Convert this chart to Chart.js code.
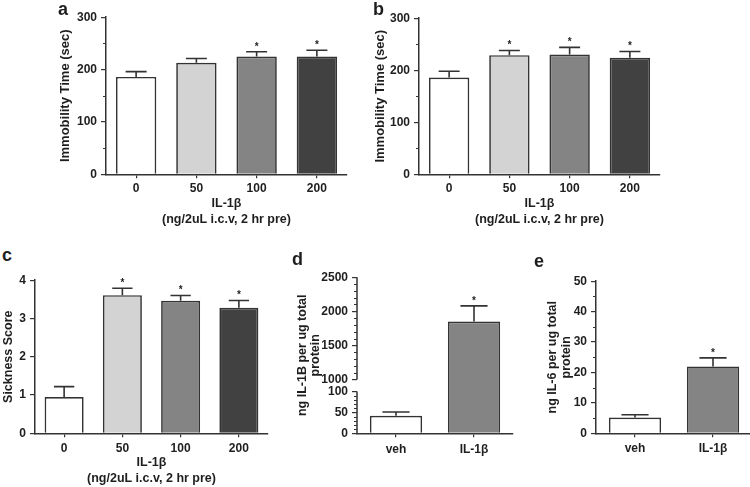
<!DOCTYPE html>
<html>
<head>
<meta charset="utf-8">
<script src="https://cdn.jsdelivr.net/npm/chart.js@4.4.1/dist/chart.umd.min.js"></script>
<style>
html, body { margin: 0; padding: 0; background: #fff; }
#fig { position: relative; width: 750px; height: 487px; overflow: hidden; background: #fff; }
#fig canvas { position: absolute; }
.tag { position: absolute; z-index: 2; font: bold 18px/18px "Liberation Sans", Arial, sans-serif; color: #1e1e1e; }
</style>
</head>
<body>
<div id="fig">
  <canvas id="chartA"></canvas>
  <canvas id="chartB"></canvas>
  <canvas id="chartC"></canvas>
  <canvas id="chartD"></canvas>
  <canvas id="chartE"></canvas>
  <div class="tag" style="left:58px;top:0px">a</div>
  <div class="tag" style="left:373px;top:0px">b</div>
  <div class="tag" style="left:2px;top:246px">c</div>
  <div class="tag" style="left:292px;top:250px">d</div>
  <div class="tag" style="left:534px;top:252px">e</div>
</div>
<script>
// ---- data ----
const doseLabels = ['0', '50', '100', '200'];
const groupLabels = ['veh', 'IL-1β'];

const immobilityA = [186, 213, 225, 225];
const immobilityAErr = [10, 8, 9, 12];
const signifA = [false, false, true, true];

const immobilityB = [186, 229, 230, 224];
const immobilityBErr = [12, 9, 14, 12];
const signifB = [false, true, true, true];

const sickness = [0.95, 3.61, 3.46, 3.28];
const sicknessErr = [0.27, 0.18, 0.14, 0.19];
const signifC = [false, true, true, true];

const il1bLevel = [42, 1850];
const il1bErr = [9, 230];
const signifD = [false, true];
const il1bTicks = [0, 50, 100, 1000, 1500, 2000, 2500];

const il6Level = [5.2, 22.0];
const il6Err = [0.9, 2.8];
const signifE = [false, true];

// ---- style ----
const INK = '#333333';
const TEXT = '#1e1e1e';
const DOSE_FILLS = ['#ffffff', '#d3d3d3', '#848484', '#414141'];
const GROUP_FILLS = ['#ffffff', '#848484'];
const PAD_TOP = 10, PAD_RIGHT = 4;
const TICK_SIZE = 12;

Chart.defaults.font.family = '"Liberation Sans", Arial, sans-serif';
Chart.defaults.font.weight = 'bold';
Chart.defaults.color = TEXT;

// broken y axis for panel d: 0-100 below, 1000-2500 above, short gap between
const IL1B_SEGMENTS = [
  { from: 0, to: 100, px: 42.3 },
  { from: 100, to: 1000, px: 12 },
  { from: 1000, to: 2500, px: 103.3 }
];
class BrokenLinearScale extends Chart.LinearScale {
  buildTicks() {
    this.start = this.min;
    this.end = this.max;
    return il1bTicks.map(v => ({ value: v }));
  }
  getPixelForValue(value) {
    const total = IL1B_SEGMENTS.reduce((s, g) => s + g.px, 0);
    const k = (this.bottom - this.top) / total;
    let y = this.bottom;
    for (const g of IL1B_SEGMENTS) {
      const len = g.px * k;
      if (value <= g.to) return y - len * (Math.max(value, g.from) - g.from) / (g.to - g.from);
      y -= len;
    }
    return y;
  }
  getValueForPixel(pixel) {
    const total = IL1B_SEGMENTS.reduce((s, g) => s + g.px, 0);
    const k = (this.bottom - this.top) / total;
    let y = this.bottom;
    for (const g of IL1B_SEGMENTS) {
      const len = g.px * k;
      if (pixel >= y - len) return g.from + (y - pixel) / len * (g.to - g.from);
      y -= len;
    }
    return this.max;
  }
}
BrokenLinearScale.id = 'brokenLinear';
BrokenLinearScale.defaults = {};
Chart.register(BrokenLinearScale);

// error bars (upper half only), asterisks, minor ticks, broken axis line
function decorations(p) {
  return {
    id: 'decor',
    afterDatasetsDraw(chart) {
      const ctx = chart.ctx;
      const ys = chart.scales.y;
      const meta = chart.getDatasetMeta(0);
      ctx.save();
      ctx.strokeStyle = INK;
      ctx.lineWidth = 1.6;
      ctx.fillStyle = TEXT;
      ctx.font = 'bold 10px "Liberation Sans", Arial, sans-serif';
      ctx.textAlign = 'center';
      ctx.textBaseline = 'middle';
      meta.data.forEach((bar, i) => {
        const capY = ys.getPixelForValue(p.values[i] + p.errors[i]);
        const half = bar.width * 0.26;
        ctx.beginPath();
        ctx.moveTo(bar.x, bar.y);
        ctx.lineTo(bar.x, capY);
        ctx.moveTo(bar.x - half, capY);
        ctx.lineTo(bar.x + half, capY);
        ctx.stroke();
        if (p.signif[i]) ctx.fillText('*', bar.x, capY - 5);
      });
      ctx.restore();
    },
    afterDraw(chart) {
      const ctx = chart.ctx;
      const ys = chart.scales.y;
      const major = ys.ticks.map(t => t.value);
      ctx.save();
      ctx.strokeStyle = INK;
      ctx.lineWidth = 1.1;
      ctx.beginPath();
      (p.minor || []).forEach(r => {
        for (let v = r.from + r.step; v < r.to; v += r.step) {
          if (major.includes(v)) continue;
          const py = Math.round(ys.getPixelForValue(v)) + 0.5;
          ctx.moveTo(ys.right - 3, py);
          ctx.lineTo(ys.right, py);
        }
      });
      ctx.stroke();
      if (p.axisParts) {
        ctx.lineWidth = 1.5;
        ctx.beginPath();
        p.axisParts.forEach(([a, b]) => {
          ctx.moveTo(ys.right, ys.getPixelForValue(a));
          ctx.lineTo(ys.right, ys.getPixelForValue(b));
        });
        ctx.stroke();
      }
      ctx.restore();
    }
  };
}

function barPanel(p) {
  const cv = document.getElementById(p.id);
  const left = Math.round(p.titleX - p.titleLH / 2);
  const top = Math.round(p.area.top - PAD_TOP);
  const width = Math.ceil(p.area.right + PAD_RIGHT - left);
  const height = Math.ceil(p.bottom - top);
  cv.width = width;
  cv.height = height;
  cv.style.left = left + 'px';
  cv.style.top = top + 'px';
  const yW = p.area.left - left;
  const xH = height - (p.area.bottom - top);

  return new Chart(cv, {
    type: 'bar',
    data: {
      labels: p.labels,
      datasets: [{
        data: p.values,
        backgroundColor: p.fills,
        borderColor: INK,
        borderWidth: 1.7,
        barPercentage: 0.67,
        categoryPercentage: 1
      }]
    },
    options: {
      responsive: false,
      animation: false,
      events: [],
      layout: { padding: { top: PAD_TOP, right: PAD_RIGHT, left: 0, bottom: 0 } },
      plugins: { legend: { display: false }, tooltip: { enabled: false } },
      scales: {
        x: {
          afterFit: s => { s.height = xH; },
          grid: { drawOnChartArea: false, offset: false, drawTicks: true, tickLength: 4, color: INK, lineWidth: 1.2 },
          border: { color: INK, width: 1.5 },
          ticks: { padding: p.tickPad, color: TEXT, font: { size: TICK_SIZE, weight: 'bold' } },
          title: p.xTitle ? {
            display: true, text: p.xTitle, padding: 0, color: TEXT,
            font: { size: 12.5, weight: 'bold', lineHeight: p.xTitleLH + 'px' }
          } : { display: false }
        },
        y: {
          type: p.yType || 'linear',
          min: p.yMin,
          max: p.yMax,
          afterFit: s => { s.width = yW; },
          grid: { drawOnChartArea: false, drawTicks: true, tickLength: 5, color: INK, lineWidth: 1.2 },
          border: { display: !p.axisParts, color: INK, width: 1.5 },
          ticks: {
            stepSize: p.yStep, autoSkip: false, padding: 4, color: TEXT,
            font: { size: TICK_SIZE, weight: 'bold' },
            callback: v => String(v)
          },
          title: {
            display: true, text: p.yTitle, padding: 0, color: TEXT,
            font: { size: p.yTitleSize, weight: 'bold', lineHeight: p.titleLH + 'px' }
          }
        }
      }
    },
    plugins: [decorations(p)]
  });
}

const doseTitle = ['IL-1β', '(ng/2uL i.c.v, 2 hr pre)'];

barPanel({
  id: 'chartA', area: { left: 106, top: 16, right: 347, bottom: 174.3 },
  titleX: 65, titleLH: 15, bottom: 228, tickPad: 3,
  labels: doseLabels, values: immobilityA, errors: immobilityAErr, signif: signifA, fills: DOSE_FILLS,
  yMin: 0, yMax: 300, yStep: 100, minor: [{ from: 0, to: 300, step: 50 }],
  yTitle: 'Immobility Time (sec)', yTitleSize: 13,
  xTitle: doseTitle, xTitleLH: 16
});

barPanel({
  id: 'chartB', area: { left: 419, top: 17, right: 660, bottom: 174.3 },
  titleX: 380, titleLH: 15, bottom: 228, tickPad: 3,
  labels: doseLabels, values: immobilityB, errors: immobilityBErr, signif: signifB, fills: DOSE_FILLS,
  yMin: 0, yMax: 300, yStep: 100, minor: [{ from: 0, to: 300, step: 50 }],
  yTitle: 'Immobility Time (sec)', yTitleSize: 13,
  xTitle: doseTitle, xTitleLH: 16
});

barPanel({
  id: 'chartC', area: { left: 35, top: 279, right: 268, bottom: 433.3 },
  titleX: 8, titleLH: 14.6, bottom: 487, tickPad: 4,
  labels: doseLabels, values: sickness, errors: sicknessErr, signif: signifC, fills: DOSE_FILLS,
  yMin: 0, yMax: 4, yStep: 1,
  yTitle: 'Sickness Score', yTitleSize: 12.5,
  xTitle: doseTitle, xTitleLH: 16.4
});

barPanel({
  id: 'chartD', area: { left: 357, top: 276, right: 513, bottom: 433.3 },
  titleX: 302, titleLH: 13, bottom: 470, tickPad: 5,
  labels: groupLabels, values: il1bLevel, errors: il1bErr, signif: signifD, fills: GROUP_FILLS,
  yType: 'brokenLinear', yMin: 0, yMax: 2500,
  minor: [{ from: 0, to: 100, step: 10 }, { from: 1000, to: 2500, step: 100 }],
  axisParts: [[0, 100], [1000, 2500]],
  yTitle: ['ng IL-1B per ug total', 'protein'], yTitleSize: 12.5
});

barPanel({
  id: 'chartE', area: { left: 596, top: 280, right: 752, bottom: 433.3 },
  titleX: 552, titleLH: 14.5, bottom: 470, tickPad: 4,
  labels: groupLabels, values: il6Level, errors: il6Err, signif: signifE, fills: GROUP_FILLS,
  yMin: 0, yMax: 50, yStep: 10, minor: [{ from: 0, to: 50, step: 5 }],
  yTitle: ['ng IL-6 per ug total', 'protein'], yTitleSize: 12.5
});
</script>
</body>
</html>
